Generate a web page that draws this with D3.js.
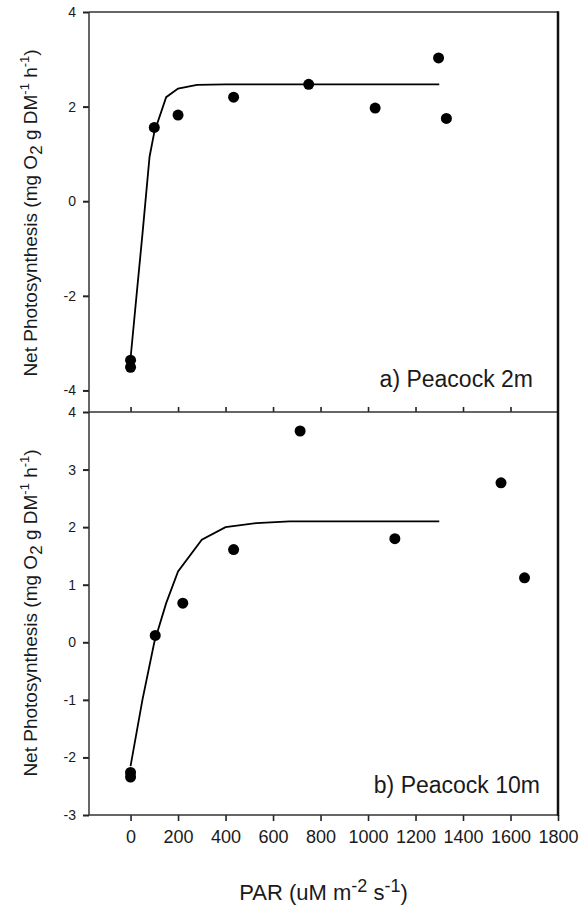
<!DOCTYPE html>
<html>
<head>
<meta charset="utf-8">
<script src="https://cdn.jsdelivr.net/npm/d3@7"></script>
<style>
  body { margin: 0; background: #fff; }
  text { font-family: "Liberation Sans", Arial, sans-serif; fill: #1a1a1a; }
</style>
</head>
<body>
<div id="canvas"></div>
<script>
"use strict"

// panel a) Peacock 2m - measured points
let topPar = [0, 0, 100, 200, 434, 750, 1030, 1297, 1330];
let topNP = [-3.36, -3.51, 1.56, 1.82, 2.20, 2.47, 1.97, 3.03, 1.75];
// fitted curve
let topFitPar = [0, 25, 50, 80, 100, 150, 200, 280, 400, 1300];
let topFitNP = [-3.32, -2.0, -0.7, 0.94, 1.46, 2.20, 2.38, 2.46, 2.47, 2.47];

// panel b) Peacock 10m
let botPar = [0, 0, 104, 220, 434, 714, 1113, 1560, 1659];
let botNP = [-2.26, -2.34, 0.12, 0.68, 1.61, 3.67, 1.80, 2.77, 1.12];
let botFitPar = [0, 50, 100, 150, 200, 300, 400, 530, 670, 1300];
let botFitNP = [-2.15, -1.0, 0.0, 0.68, 1.23, 1.78, 2.0, 2.07, 2.10, 2.10];

// tick values
let xTicks = [0, 200, 400, 600, 800, 1000, 1200, 1400, 1600, 1800];
let topYTicks = [-4, -2, 0, 2, 4];
let botYTicks = [-3, -2, -1, 0, 1, 2, 3, 4];

// frame edges in pixels
let plotL = 89, plotR = 558, plotT = 12, plotMid = 412, plotB = 815;

let plain = d => String(d); // "-4" with a plain hyphen, "1000" with no comma

let drawing = d3.select("#canvas")
    .append("svg")
    .attr("width", 584)
    .attr("height", 911);

let x = d3.scaleLinear().domain([-175, 1800]).range([plotL, plotR]);
let yTop = d3.scaleLinear().domain([-4.456, 4]).range([plotMid, plotT]);
let yBot = d3.scaleLinear().domain([-3, 4]).range([plotB, plotMid]);

// y axes (ticks pointing out to the left)
function yAxis(scale, ticks) {
    let g = drawing.append("g")
        .attr("transform", "translate(" + plotL + ",0)")
        .call(d3.axisLeft(scale).tickValues(ticks).tickFormat(plain)
            .tickSize(6).tickSizeOuter(0).tickPadding(7));
    g.select(".domain").remove();
    g.selectAll(".tick line").attr("stroke", "#222").attr("stroke-width", 2);
    g.selectAll(".tick text").attr("font-size", 14).attr("fill", "#222");
    return g;
}
yAxis(yTop, topYTicks);
yAxis(yBot, botYTicks);

// x ticks on the shared line between panels (pointing up, no labels)
let midAxis = drawing.append("g")
    .attr("transform", "translate(0," + plotMid + ")")
    .call(d3.axisTop(x).tickValues(xTicks.slice(0, 9)).tickSize(5).tickSizeOuter(0).tickFormat(""));
midAxis.select(".domain").remove();
midAxis.selectAll(".tick line").attr("stroke", "#222").attr("stroke-width", 1.6);

// x axis at the bottom
let bottomAxis = drawing.append("g")
    .attr("transform", "translate(0," + plotB + ")")
    .call(d3.axisBottom(x).tickValues(xTicks).tickFormat(plain)
        .tickSize(6).tickSizeOuter(0).tickPadding(9));
bottomAxis.select(".domain").remove();
bottomAxis.selectAll(".tick line").attr("stroke", "#222").attr("stroke-width", 1.6);
bottomAxis.selectAll(".tick text").attr("font-size", 18).attr("fill", "#222");

// frame lines
let frame = [
    [plotL, plotT, plotR, plotT],
    [plotL, plotMid, plotR, plotMid],
    [plotL, plotB, plotR, plotB],
    [plotL, plotT, plotL, plotB]
];
drawing.selectAll(".frame")
    .data(frame)
    .enter().append("line")
    .attr("class", "frame")
    .attr("x1", d => d[0]).attr("y1", d => d[1])
    .attr("x2", d => d[2]).attr("y2", d => d[3])
    .attr("stroke", "#333")
    .attr("stroke-width", 1.5);

// right border is drawn heavier
drawing.append("line")
    .attr("x1", plotR).attr("y1", plotT - 0.75)
    .attr("x2", plotR).attr("y2", plotB + 0.75)
    .attr("stroke", "#111")
    .attr("stroke-width", 2.5);

// fitted curves
function fitLine(pars, vals, yScale) {
    let pts = pars.map((p, i) => [p, vals[i]]);
    drawing.append("path")
        .datum(pts)
        .attr("fill", "none")
        .attr("stroke", "#000")
        .attr("stroke-width", 1.8)
        .attr("d", d3.line().x(d => x(d[0])).y(d => yScale(d[1])));
}
fitLine(topFitPar, topFitNP, yTop);
fitLine(botFitPar, botFitNP, yBot);

// data points
function dots(pars, vals, yScale) {
    drawing.append("g").selectAll("circle")
        .data(pars.map((p, i) => [p, vals[i]]))
        .enter().append("circle")
        .attr("cx", d => x(d[0]))
        .attr("cy", d => yScale(d[1]))
        .attr("r", 5.5)
        .attr("fill", "#000");
}
dots(topPar, topNP, yTop);
dots(botPar, botNP, yBot);

// panel labels
drawing.append("text")
    .attr("x", 533).attr("y", 387)
    .attr("text-anchor", "end")
    .attr("font-size", 23)
    .text("a) Peacock 2m");

drawing.append("text")
    .attr("x", 540).attr("y", 793)
    .attr("text-anchor", "end")
    .attr("font-size", 23)
    .text("b) Peacock 10m");

// y axis titles with sub/superscripts
function yTitle(cy) {
    let t = drawing.append("text")
        .attr("transform", "translate(37," + cy + ") rotate(-90)")
        .attr("text-anchor", "middle")
        .attr("font-size", 19);
    t.append("tspan").text("Net Photosynthesis (mg O");
    t.append("tspan").attr("dy", 5).attr("font-size", 17).text("2");
    t.append("tspan").attr("dy", -5).text(" g DM");
    t.append("tspan").attr("dy", -8).attr("font-size", 13).text("-1");
    t.append("tspan").attr("dy", 8).text(" h");
    t.append("tspan").attr("dy", -8).attr("font-size", 13).text("-1");
    t.append("tspan").attr("dy", 8).text(")");
}
yTitle(213);
yTitle(613);

// x axis title
let xt = drawing.append("text")
    .attr("x", (plotL + plotR) / 2).attr("y", 900)
    .attr("text-anchor", "middle")
    .attr("font-size", 22);
xt.append("tspan").text("PAR (uM m");
xt.append("tspan").attr("dy", -8).attr("font-size", 18).text("-2");
xt.append("tspan").attr("dy", 8).text(" s");
xt.append("tspan").attr("dy", -8).attr("font-size", 18).text("-1");
xt.append("tspan").attr("dy", 8).text(")");
</script>
</body>
</html>
